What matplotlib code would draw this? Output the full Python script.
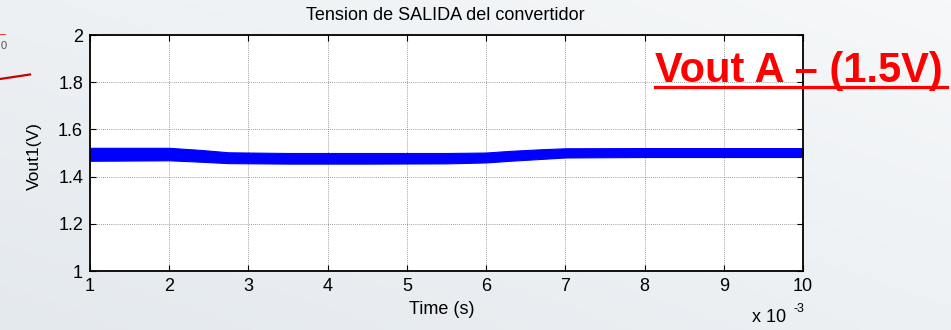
import numpy as np
import matplotlib.pyplot as plt
from matplotlib.lines import Line2D
from matplotlib.colors import LinearSegmentedColormap

plt.rcParams['font.family'] = ['Liberation Sans', 'DejaVu Sans']

# envelope of the switching ripple (time in ms, voltage in V)
t_ms = [1.0, 2.0, 2.4, 2.75, 3.5, 4.5, 5.5, 6.0, 6.3, 6.7, 7.0, 8.0, 9.0, 10.0]
v_upper = [1.522, 1.522, 1.513, 1.503, 1.500, 1.500, 1.500, 1.502, 1.509, 1.516, 1.520, 1.521, 1.521, 1.521]
v_lower = [1.467, 1.469, 1.463, 1.457, 1.455, 1.455, 1.456, 1.460, 1.467, 1.475, 1.481, 1.483, 1.483, 1.483]

x_ticks = [1, 2, 3, 4, 5, 6, 7, 8, 9, 10]
y_ticks = [1, 1.2, 1.4, 1.6, 1.8, 2]
y_labels = ['1', '1.2', '1.4', '1.6', '1.8', '2']

W, H = 951, 330


def fx(x):
    return x / W


def fy(y):
    return 1 - y / H


fig = plt.figure(figsize=(9.51, 3.30), dpi=100)

# slide background
bg = fig.add_axes([0, 0, 1, 1], zorder=-10)
xx, yy = np.meshgrid(np.linspace(0, 1, 200), np.linspace(0, 1, 80))
grad = 0.5 * xx + 0.5 * (1 - yy)
cmap = LinearSegmentedColormap.from_list('bg', ['#e4e9ee', '#f6f8f9'])
bg.imshow(grad, cmap=cmap, aspect='auto', extent=[0, 1, 0, 1])
bg.axis('off')

ax = fig.add_axes([fx(90), fy(271), fx(803) - fx(90), fy(35) - fy(271)])
ax.set_facecolor('white')
ax.fill_between(t_ms, v_lower, v_upper, color='#0000ff', edgecolor='#0000ff', linewidth=0.8)
ax.set_xlim(1, 10)
ax.set_ylim(1, 2)
ax.set_xticks(x_ticks)
ax.set_yticks(y_ticks)
ax.set_yticklabels(y_labels)
ax.grid(True, color='#7f7f7f', linestyle=(0, (1, 1.5)), linewidth=0.6)
ax.set_axisbelow(True)
ax.tick_params(direction='in', length=4, width=0.8, top=True, right=True, labelsize=13)
ax.tick_params(axis='x', pad=5)
ax.tick_params(axis='y', pad=5)
for s in ax.spines.values():
    s.set_linewidth(1.3)

fig.text(fx(445), fy(16), 'Tension de SALIDA del convertidor', ha='center', va='center', fontsize=13)
fig.text(fx(442), fy(310), 'Time (s)', ha='center', va='center', fontsize=13)
fig.text(fx(34), fy(156), 'Vout1(V)', ha='center', va='center', rotation=90, fontsize=12.5)
fig.text(fx(752), fy(318), 'x 10', ha='left', va='center', fontsize=13)
fig.text(fx(794), fy(309), '-3', ha='left', va='center', fontsize=9)

# red annotation
fig.text(fx(655), fy(82), 'Vout A \u2013 (1.5V)', ha='left', va='baseline',
         fontsize=30, fontweight='bold', color='#ff0000')
fig.add_artist(Line2D([fx(655), fx(947)], [fy(86.5), fy(86.5)], color='#ff0000', lw=2.3,
                      transform=fig.transFigure))

# slide fragments on the left edge
fig.add_artist(Line2D([0, fx(30)], [fy(79), fy(74.5)], color='#cc0000', lw=1.6,
                      transform=fig.transFigure))
fig.add_artist(Line2D([0, fx(5)], [fy(34), fy(34)], color='#ff3333', lw=0.7,
                      transform=fig.transFigure))
fig.text(fx(0.5), fy(46), '0', ha='left', va='center', fontsize=8, color='#555555')

fig.savefig('out.png', dpi=100)
